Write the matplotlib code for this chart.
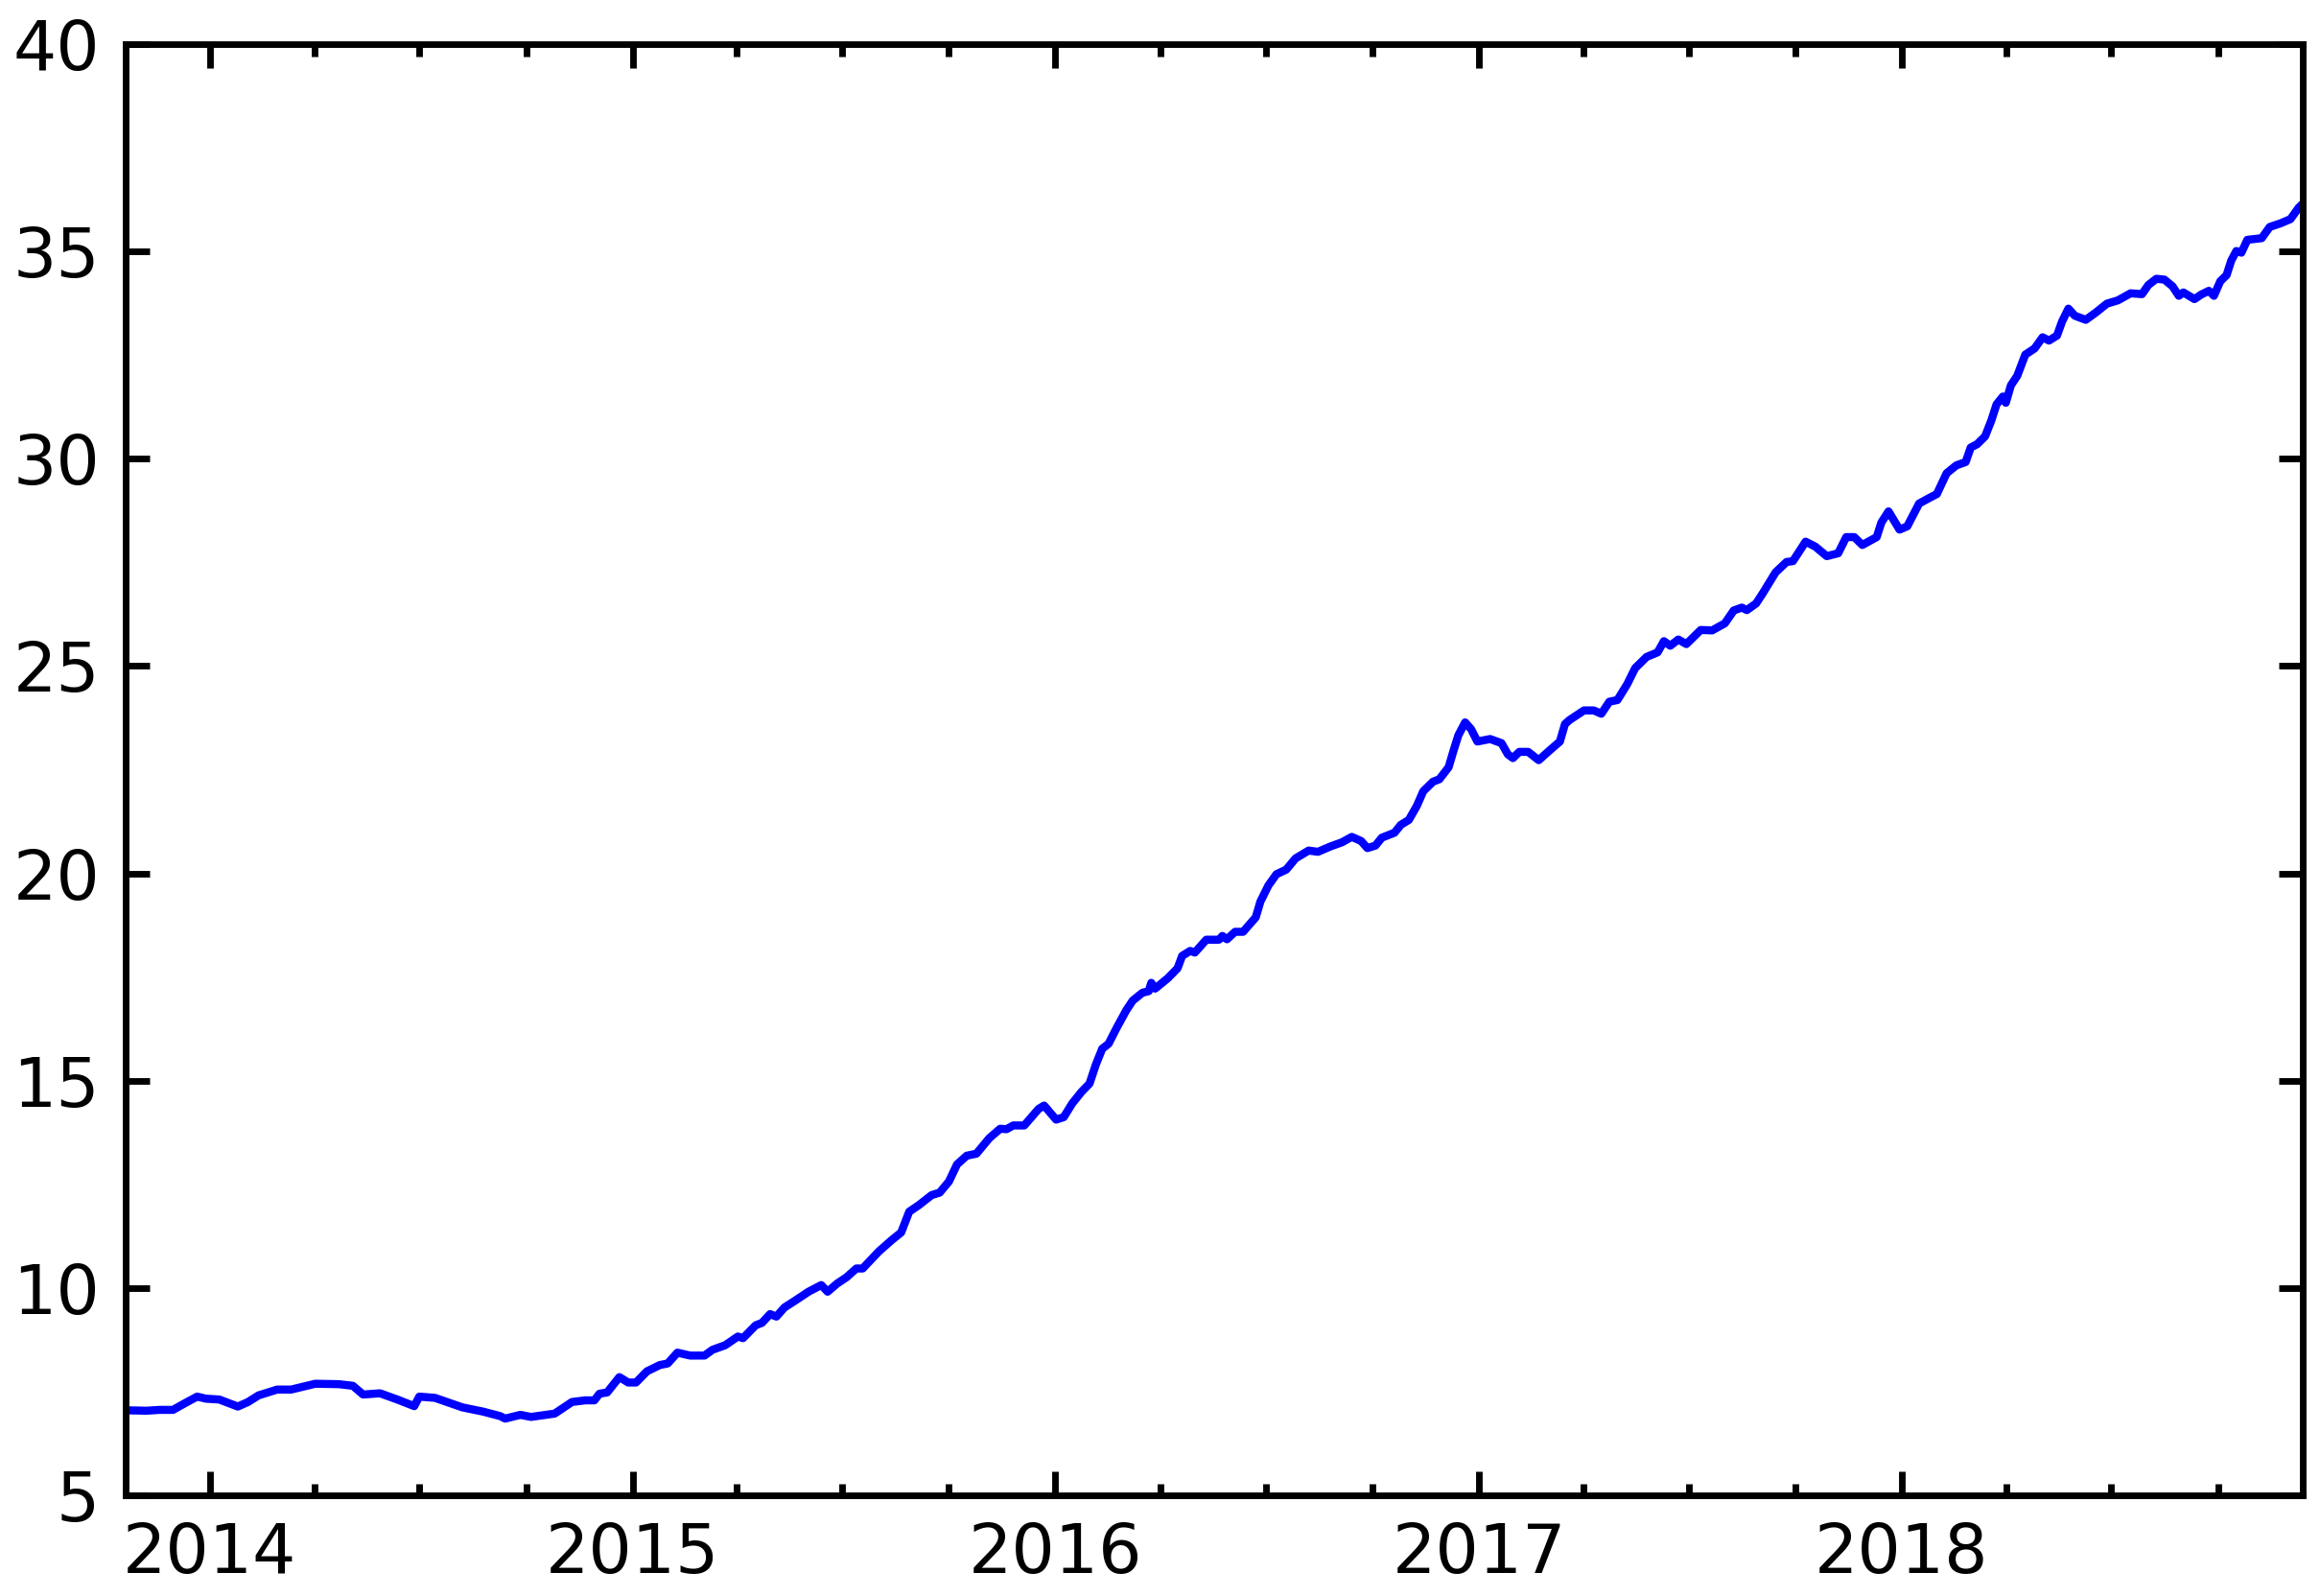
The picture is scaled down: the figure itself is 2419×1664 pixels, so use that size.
import datetime as dt

import matplotlib
matplotlib.use("Agg")
import matplotlib.dates as mdates
import matplotlib.pyplot as plt

years = [
    2013.800, 2013.850, 2013.880, 2013.912, 2013.940, 2013.969, 2013.990, 2014.022,
    2014.066, 2014.090, 2014.115, 2014.159, 2014.192, 2014.249, 2014.305, 2014.338,
    2014.362, 2014.402, 2014.443, 2014.483, 2014.495, 2014.532, 2014.597, 2014.645,
    2014.686, 2014.698, 2014.734, 2014.759, 2014.815, 2014.856, 2014.887, 2014.909,
    2014.921, 2014.939, 2014.968, 2014.989, 2015.008, 2015.034, 2015.064, 2015.083,
    2015.106, 2015.136, 2015.170, 2015.189, 2015.219, 2015.249, 2015.261, 2015.291,
    2015.306, 2015.325, 2015.340, 2015.359, 2015.385, 2015.416, 2015.446, 2015.461,
    2015.484, 2015.506, 2015.529, 2015.544, 2015.582, 2015.612, 2015.635, 2015.654,
    2015.677, 2015.707, 2015.726, 2015.748, 2015.767, 2015.790, 2015.813, 2015.843,
    2015.869, 2015.884, 2015.900, 2015.926, 2015.960, 2015.973, 2016.002, 2016.020,
    2016.040, 2016.062, 2016.081, 2016.096, 2016.111, 2016.126, 2016.145, 2016.168,
    2016.183, 2016.206, 2016.221, 2016.227, 2016.236, 2016.266, 2016.289, 2016.300,
    2016.319, 2016.330, 2016.357, 2016.387, 2016.395, 2016.406, 2016.425, 2016.444,
    2016.474, 2016.485, 2016.504, 2016.523, 2016.546, 2016.568, 2016.599, 2016.621,
    2016.651, 2016.678, 2016.701, 2016.723, 2016.738, 2016.757, 2016.772, 2016.802,
    2016.817, 2016.836, 2016.855, 2016.870, 2016.893, 2016.908, 2016.930, 2016.941,
    2016.953, 2016.969, 2016.983, 2016.998, 2017.026, 2017.053, 2017.068, 2017.080,
    2017.095, 2017.116, 2017.141, 2017.165, 2017.191, 2017.203, 2017.214, 2017.248,
    2017.271, 2017.289, 2017.308, 2017.327, 2017.350, 2017.369, 2017.396, 2017.422,
    2017.437, 2017.452, 2017.471, 2017.490, 2017.524, 2017.551, 2017.581, 2017.602,
    2017.621, 2017.633, 2017.655, 2017.671, 2017.701, 2017.727, 2017.742, 2017.772,
    2017.795, 2017.822, 2017.849, 2017.868, 2017.887, 2017.906, 2017.940, 2017.951,
    2017.968, 2017.994, 2018.013, 2018.041, 2018.068, 2018.083, 2018.106, 2018.129,
    2018.151, 2018.163, 2018.178, 2018.197, 2018.212, 2018.224, 2018.239, 2018.246,
    2018.258, 2018.273, 2018.292, 2018.314, 2018.333, 2018.348, 2018.367, 2018.379,
    2018.394, 2018.409, 2018.435, 2018.458, 2018.485, 2018.511, 2018.541, 2018.568,
    2018.583, 2018.602, 2018.621, 2018.640, 2018.655, 2018.666, 2018.692, 2018.708,
    2018.726, 2018.738, 2018.753, 2018.768, 2018.779, 2018.791, 2018.803, 2018.817,
    2018.851, 2018.870, 2018.896, 2018.919, 2018.938, 2018.948,
]
values = [
    7.05, 7.04, 7.06, 7.06, 7.22, 7.38, 7.33, 7.31,
    7.14, 7.25, 7.41, 7.55, 7.55, 7.69, 7.68, 7.64,
    7.43, 7.46, 7.31, 7.15, 7.38, 7.35, 7.12, 7.02,
    6.91, 6.85, 6.94, 6.89, 6.97, 7.25, 7.29, 7.29,
    7.45, 7.48, 7.85, 7.72, 7.72, 7.99, 8.14, 8.18,
    8.44, 8.37, 8.37, 8.51, 8.62, 8.83, 8.79, 9.10,
    9.16, 9.37, 9.31, 9.53, 9.70, 9.91, 10.07, 9.91,
    10.11, 10.26, 10.47, 10.47, 10.88, 11.15, 11.34, 11.84,
    12.00, 12.24, 12.30, 12.57, 12.98, 13.19, 13.24, 13.61,
    13.84, 13.83, 13.92, 13.92, 14.32, 14.40, 14.06, 14.12,
    14.45, 14.73, 14.93, 15.39, 15.77, 15.89, 16.27, 16.70,
    16.93, 17.12, 17.16, 17.36, 17.22, 17.47, 17.71, 18.01,
    18.13, 18.09, 18.40, 18.40, 18.49, 18.41, 18.59, 18.59,
    18.94, 19.32, 19.71, 19.98, 20.09, 20.36, 20.55, 20.52,
    20.65, 20.75, 20.88, 20.78, 20.61, 20.67, 20.86, 20.98,
    21.17, 21.29, 21.63, 21.98, 22.21, 22.27, 22.56, 22.94,
    23.33, 23.64, 23.48, 23.18, 23.24, 23.14, 22.87, 22.78,
    22.93, 22.93, 22.73, 22.95, 23.18, 23.60, 23.70, 23.93,
    23.93, 23.85, 24.14, 24.18, 24.56, 24.95, 25.22, 25.33,
    25.60, 25.49, 25.64, 25.53, 25.87, 25.86, 26.03, 26.34,
    26.41, 26.35, 26.51, 26.76, 27.26, 27.51, 27.53, 28.00,
    27.88, 27.65, 27.72, 28.11, 28.11, 27.92, 28.11, 28.46,
    28.73, 28.29, 28.37, 28.92, 29.07, 29.15, 29.65, 29.84,
    29.92, 30.27, 30.35, 30.54, 30.93, 31.31, 31.50, 31.35,
    31.77, 32.00, 32.51, 32.66, 32.93, 32.85, 32.97, 33.31,
    33.62, 33.45, 33.35, 33.52, 33.74, 33.82, 33.99, 33.97,
    34.19, 34.34, 34.32, 34.16, 33.93, 34.01, 33.85, 33.96,
    34.05, 33.93, 34.28, 34.43, 34.78, 35.01, 34.97, 35.28,
    35.32, 35.59, 35.68, 35.78, 36.05, 36.15,
]
y_ticks = [5, 10, 15, 20, 25, 30, 35, 40]


def to_date(y):
    year = int(y)
    return dt.datetime(year, 1, 1) + dt.timedelta(days=(y - year) * 365.25)


dates = [to_date(y) for y in years]

plt.rcParams["font.family"] = ["DejaVu Sans"]
plt.rcParams["font.size"] = 11.4

fig = plt.figure(figsize=(2419 / 450, 1664 / 450), dpi=450)
ax = fig.add_axes([131 / 2419, 1 - 1559 / 1664, 2270 / 2419, 1513 / 1664])

ax.plot(dates, values, color="blue", linewidth=1.35)

ax.set_xlim(dates[0], dates[-1])
ax.set_ylim(5, 40)
ax.set_yticks(y_ticks)
ax.xaxis.set_major_locator(mdates.YearLocator())
ax.xaxis.set_major_formatter(mdates.DateFormatter("%Y"))
ax.xaxis.set_minor_locator(mdates.MonthLocator(bymonth=[4, 7, 10]))

for s in ax.spines.values():
    s.set_linewidth(1.1)
ax.tick_params(which="both", direction="in", top=True, right=True, width=1.1)
ax.tick_params(which="major", length=4, pad=4.3)
ax.tick_params(which="minor", length=2)

fig.savefig("out.png", dpi=450)
plt.close(fig)
